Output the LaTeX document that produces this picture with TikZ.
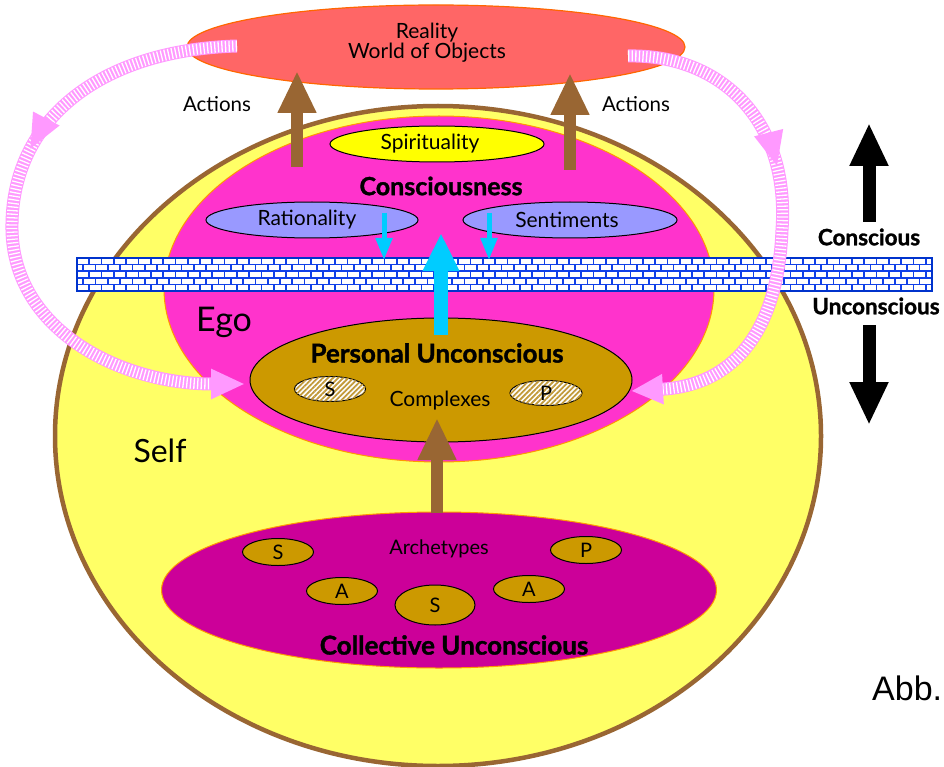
\documentclass[tikz,border=0pt]{standalone}
\usepackage{fontspec}
\setmainfont{Lato}[BoldFeatures={FakeBold=1.3}]
\newfontfamily\abbfont{Liberation Sans}
\usetikzlibrary{shapes.geometric,arrows.meta,decorations.markings,patterns.meta}
\definecolor{selfyellow}{HTML}{FFFF66}
\definecolor{selfbrown}{HTML}{996633}
\definecolor{egomag}{HTML}{FF33CC}
\definecolor{realred}{HTML}{FF6666}
\definecolor{realborder}{HTML}{FF6600}
\definecolor{orangeb}{HTML}{FF9900}
\definecolor{spiryellow}{HTML}{FFFF00}
\definecolor{lavender}{HTML}{9999FF}
\definecolor{goldc}{HTML}{CC9900}
\definecolor{hatchc}{HTML}{C29A3A}
\definecolor{collmag}{HTML}{CC0099}
\definecolor{cyanc}{HTML}{00CCFF}
\definecolor{pinkc}{HTML}{FF99FF}
\definecolor{brickblue}{HTML}{1040E8}
\definecolor{bandblue}{HTML}{0033CC}
\begin{document}
\begin{tikzpicture}[x=1pt,y=-1pt,
  ell/.style={ellipse, inner sep=0pt, outer sep=0pt},
  txt/.style={inner sep=0pt, font=\fontsize{21}{22}\selectfont},
  boldtxt/.style={inner sep=0pt, font=\bfseries\fontsize{26}{28}\selectfont},
  bigtxt/.style={inner sep=0pt, font=\fontsize{33}{35}\selectfont},
  smallell/.style={ell, fill=goldc, draw=black, line width=1pt, font=\fontsize{20}{21}\selectfont},
  hatchell/.style={ell, draw=black, line width=1pt, fill=white, postaction={pattern={Lines[angle=45,distance=3.6pt,line width=1.8pt]}, pattern color=hatchc}, font=\fontsize{20}{21}\selectfont},
  innerell/.style={ell, draw=black, line width=1pt},
  brownarrow/.style={selfbrown, line width=12pt, -{Triangle[width=36pt,length=42pt]}},
  cyanbig/.style={cyanc, line width=14pt, -{Triangle[width=34pt,length=38pt]}},
  cyansmall/.style={cyanc, line width=5pt, -{Triangle[width=16pt,length=22pt]}},
  blackarrow/.style={black, line width=13pt, -{Triangle[width=36pt,length=43pt]}},
  pinkbase/.style={pinkc, line width=13pt},
  pinkstripe/.style={white, line width=11pt, dash pattern=on 1.3pt off 2.3pt},
  brick/.style={brickblue, line width=1.7pt}
]
\useasboundingbox (0,0) rectangle (944,767);
\clip (0,0) rectangle (944,767);

% Reality
\node[ell, fill=realred, draw=realborder, line width=1.2pt, minimum width=498pt, minimum height=84pt] (reality) at (436,47) {};
\node[txt, align=center, font=\fontsize{21}{20}\selectfont] (realtxt) at (427,43) {Reality\\World of Objects};

% Self and Ego
\node[ell, fill=selfyellow, draw=selfbrown, line width=4.5pt, minimum width=766pt, minimum height=660pt] (self) at (438,436) {};
\node[ell, fill=egomag, draw=orangeb, line width=1pt, minimum width=550pt, minimum height=346pt] (ego) at (439,289) {};

\node[innerell, fill=spiryellow, minimum width=214pt, minimum height=36pt] (spir) at (437,144) {};
\node[txt] (spirtxt) at (430,144) {Spirituality};
\node[boldtxt, font=\bfseries\fontsize{25}{27}\selectfont] (constxt) at (441,186) {Consciousness};
\node[innerell, fill=lavender, minimum width=212pt, minimum height=36pt] (rat) at (312,220) {};
\node[txt] (rattxt) at (307,220) {Rationality};
\node[innerell, fill=lavender, minimum width=214pt, minimum height=36pt] (sent) at (570,220) {};
\node[txt] (senttxt) at (567,220) {Sentiments};

\node[bigtxt, font=\fontsize{34}{36}\selectfont] (egotxt) at (224,322) {Ego};

% Personal unconscious
\node[ell, fill=goldc, draw=black, line width=1pt, minimum width=382pt, minimum height=124pt] (pers) at (441,380) {};
\node[boldtxt] (perstxt) at (437,353) {Personal Unconscious};
\node[txt] (comptxt) at (440,401) {Complexes};
\node[hatchell, minimum width=71pt, minimum height=25pt] (cs) at (330,389) {S};
\node[hatchell, minimum width=72pt, minimum height=25pt] (cp) at (546,393) {P};

% Self label
\node[bigtxt, font=\fontsize{32}{34}\selectfont] (selftxt) at (160,451) {Self};

% Collective unconscious
\node[ell, fill=collmag, draw=orangeb, line width=1pt, minimum width=555pt, minimum height=156pt] (coll) at (439,590) {};
\node[txt, font=\fontsize{20}{21}\selectfont] (archtxt) at (439,549) {Archetypes};
\node[smallell, minimum width=71pt, minimum height=27pt] (as1) at (278,552) {S};
\node[smallell, minimum width=71pt, minimum height=27pt] (ap) at (586,550) {P};
\node[smallell, minimum width=71pt, minimum height=27pt] (aa1) at (342,591) {A};
\node[smallell, minimum width=71pt, minimum height=27pt] (aa2) at (529,589) {A};
\node[smallell, minimum width=80pt, minimum height=40pt] (as2) at (435,605) {S};
\node[boldtxt] (colltxt) at (454,645) {Collective Unconscious};

% Actions
\node[txt, font=\fontsize{20.5}{22}\selectfont] (act1) at (217,104) {Actions};
\node[txt, font=\fontsize{20.5}{22}\selectfont] (act2) at (636,104) {Actions};

% brown arrows
\coordinate (b1s) at (297,167); \coordinate (b1e) at (297,71);
\coordinate (b2s) at (570,170); \coordinate (b2e) at (570,73);
\coordinate (b3s) at (437,513); \coordinate (b3e) at (437,418);
\draw[brownarrow] (b1s) -- (b1e);
\draw[brownarrow] (b2s) -- (b2e);
\draw[brownarrow] (b3s) -- (b3e);

% brick band
\coordinate (bandA) at (77,258);
\coordinate (bandB) at (932,291);
\fill[white] (bandA) rectangle (bandB);
\begin{scope}
\clip (bandA) rectangle (bandB);
\foreach \k in {1,...,4} { \draw[brick] (77,258+\k*6.6) -- (932,258+\k*6.6); }
\foreach \r [evaluate=\r as \yy using {258+\r*6.6}, evaluate=\r as \off using {mod(\r,2)*6.15}] in {0,...,4} {
  \foreach \j [evaluate=\j as \xx using {77+\off+\j*12.3}] in {0,...,70} {
    \draw[brick] (\xx,\yy) -- ++(0,6.6);
  }
}
\end{scope}
\draw[bandblue, line width=2pt] (bandA) rectangle (bandB);

% cyan arrows
\coordinate (c1s) at (384,213); \coordinate (c1e) at (384,260);
\coordinate (c2s) at (489,213); \coordinate (c2e) at (489,260);
\coordinate (c3s) at (441,335); \coordinate (c3e) at (441,233);
\draw[cyansmall] (c1s) -- (c1e);
\draw[cyansmall] (c2s) -- (c2e);
\draw[cyanbig] (c3s) -- (c3e);

% pink arrows
\coordinate (lA) at (237,46);
\coordinate (lB) at (245,384);
\coordinate (rA) at (628,56);
\coordinate (rB) at (631,391);
\draw[pinkbase, -{Triangle[width=28pt,length=34pt]}] (lA) .. controls (100,50) and (10,120) .. (12,230) .. controls (14,330) and (120,384) .. (lB);
\draw[pinkstripe, shorten >=34pt] (lA) .. controls (100,50) and (10,120) .. (12,230) .. controls (14,330) and (120,384) .. (lB);
\path[postaction={decorate}, decoration={markings, mark=at position 0.38 with {\fill[pinkc] (0pt,0pt) -- (-34pt,15pt) -- (-34pt,-15pt) -- cycle;}}] (lA) .. controls (100,50) and (10,120) .. (12,230) .. controls (14,330) and (120,384) .. (lB);

\draw[pinkbase, -{Triangle[width=28pt,length=32pt]}] (rA) .. controls (720,54) and (790,120) .. (782,230) .. controls (778,330) and (735,385) .. (rB);
\draw[pinkstripe, shorten >=32pt] (rA) .. controls (720,54) and (790,120) .. (782,230) .. controls (778,330) and (735,385) .. (rB);
\path[postaction={decorate}, decoration={markings, mark=at position 0.39 with {\fill[pinkc] (0pt,0pt) -- (-34pt,15pt) -- (-34pt,-15pt) -- cycle;}}] (rA) .. controls (720,54) and (790,120) .. (782,230) .. controls (778,330) and (735,385) .. (rB);

% conscious / unconscious arrows
\coordinate (k1s) at (869,222); \coordinate (k1e) at (869,123);
\coordinate (k2s) at (869,325); \coordinate (k2e) at (869,425);
\draw[blackarrow] (k1s) -- (k1e);
\draw[blackarrow] (k2s) -- (k2e);
\node[boldtxt, font=\bfseries\fontsize{22.5}{24}\selectfont] (constxt2) at (869,237) {Conscious};
\node[boldtxt, font=\bfseries\fontsize{22.5}{24}\selectfont] (unctxt) at (876,306) {Unconscious};

\node[inner sep=0pt, anchor=west, font=\abbfont\fontsize{34}{36}\selectfont] (abb) at (872,688) {Abb.};
\end{tikzpicture}
\end{document}
